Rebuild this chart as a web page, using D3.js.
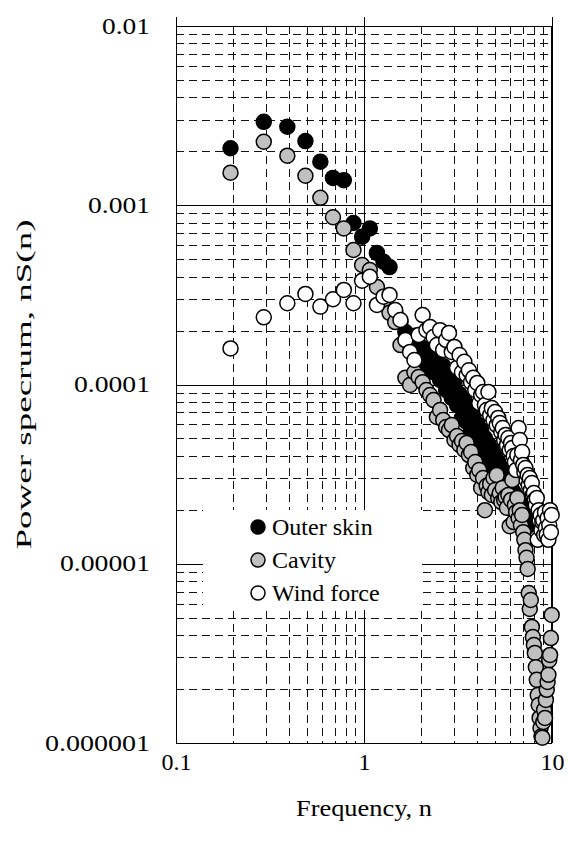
<!DOCTYPE html>
<html>
<head>
<meta charset="utf-8">
<script src="https://cdnjs.cloudflare.com/ajax/libs/d3/7.8.5/d3.min.js"></script>
<style>
  html, body { margin: 0; padding: 0; background: #fff; }
  svg { display: block; }
  text { font-family: "Liberation Serif", "Times New Roman", Times, serif; fill: #000; }
</style>
</head>
<body>
<svg id="chart"></svg>
<script>
// frequency bins (Hz)
const freq = [
  0.195, 0.293, 0.391, 0.488, 0.586, 0.684, 0.781, 0.879, 0.977, 1.074,
  1.172, 1.270, 1.367, 1.465, 1.563, 1.660, 1.758, 1.855, 1.953, 2.051,
  2.148, 2.246, 2.344, 2.441, 2.539, 2.637, 2.734, 2.832, 2.930, 3.027,
  3.125, 3.223, 3.320, 3.418, 3.516, 3.613, 3.711, 3.809, 3.906, 4.004,
  4.102, 4.199, 4.297, 4.395, 4.492, 4.590, 4.688, 4.785, 4.883, 4.980,
  5.078, 5.176, 5.273, 5.371, 5.469, 5.566, 5.664, 5.762, 5.859, 5.957,
  6.055, 6.152, 6.250, 6.348, 6.445, 6.543, 6.641, 6.738, 6.836, 6.934,
  7.031, 7.129, 7.227, 7.324, 7.422, 7.520, 7.617, 7.715, 7.813, 7.910,
  8.008, 8.105, 8.203, 8.301, 8.398, 8.496, 8.594, 8.691, 8.789, 8.887,
  8.984, 9.082, 9.180, 9.277, 9.375, 9.473, 9.570, 9.668, 9.766, 9.863,
  9.961
];

const outerSkin = [
  2.08e-3, 2.92e-3, 2.74e-3, 2.28e-3, 1.75e-3, 1.42e-3, 1.38e-3, 7.96e-4, 6.68e-4, 7.43e-4,
  5.42e-4, 4.84e-4, 4.52e-4, 2.54e-4, 2.23e-4, 1.96e-4, 1.68e-4, 1.87e-4, 1.46e-4, 1.60e-4,
  1.27e-4, 1.52e-4, 1.17e-4, 1.34e-4, 1.06e-4, 1.27e-4, 9.32e-5, 1.12e-4, 8.41e-5, 1.01e-4,
  7.68e-5, 8.85e-5, 6.51e-5, 8.19e-5, 6.18e-5, 7.39e-5, 5.57e-5, 6.67e-5, 5.03e-5, 6.02e-5,
  4.54e-5, 5.57e-5, 4.20e-5, 5.03e-5, 3.89e-5, 4.66e-5, 3.56e-5, 4.31e-5, 3.34e-5, 3.99e-5,
  3.09e-5, 3.70e-5, 2.86e-5, 3.42e-5, 2.65e-5, 3.17e-5, 2.45e-5, 2.93e-5, 2.33e-5, 2.72e-5,
  2.15e-5, 2.58e-5, 2.05e-5, 2.45e-5, 1.94e-5, 2.33e-5, 1.85e-5, 2.21e-5, 1.75e-5, 2.10e-5,
  1.67e-5, 1.94e-5, 1.58e-5, 1.85e-5, 1.62e-5
];

const cavity = [
  1.52e-3, 2.26e-3, 1.89e-3, 1.46e-3, 1.10e-3, 8.57e-4, 7.43e-4, 5.63e-4, 4.64e-4, 4.35e-4,
  3.50e-4, 2.96e-4, 2.51e-4, 2.23e-4, 1.66e-4, 1.09e-4, 9.94e-5, 1.17e-4, 1.10e-4, 1.03e-4,
  9.32e-5, 8.74e-5, 8.19e-5, 6.59e-5, 7.21e-5, 6.34e-5, 5.79e-5, 5.57e-5, 5.94e-5, 4.90e-5,
  5.16e-5, 4.60e-5, 4.84e-5, 4.31e-5, 4.72e-5, 4.04e-5, 4.20e-5, 3.42e-5, 3.69e-5, 3.13e-5,
  3.33e-5, 2.65e-5, 3.01e-5, 1.99e-5, 2.72e-5, 2.51e-5, 2.79e-5, 2.42e-5, 3.01e-5, 2.58e-5,
  3.13e-5, 2.33e-5, 2.48e-5, 2.21e-5, 2.65e-5, 2.27e-5, 2.36e-5, 2.05e-5, 2.42e-5, 1.62e-5,
  2.27e-5, 2.93e-5, 1.71e-5, 2.13e-5, 1.94e-5, 2.33e-5, 1.80e-5, 1.99e-5, 1.64e-5, 1.87e-5,
  1.50e-5, 1.36e-5, 1.19e-5, 1.08e-5, 9.35e-6, 6.87e-6, 5.59e-6, 6.28e-6, 4.44e-6, 3.90e-6,
  3.52e-6, 3.18e-6, 2.65e-6, 2.25e-6, 1.85e-6, 1.63e-6, 1.38e-6, 1.21e-6, 1.09e-6, 1.07e-6,
  1.31e-6, 1.53e-6, 1.38e-6, 1.74e-6, 1.98e-6, 2.19e-6, 2.40e-6, 2.90e-6, 3.10e-6, 3.85e-6,
  5.18e-6
];

const windForce = [
  1.59e-4, 2.37e-4, 2.84e-4, 3.20e-4, 2.72e-4, 2.99e-4, 3.37e-4, 2.84e-4, 3.79e-4, 3.99e-4,
  2.78e-4, 3.09e-4, 3.16e-4, 2.60e-4, 2.29e-4, 1.77e-4, 1.52e-4, 1.37e-4, 1.89e-4, 2.44e-4,
  2.01e-4, 2.09e-4, 1.84e-4, 1.66e-4, 2.01e-4, 1.56e-4, 1.77e-4, 1.94e-4, 1.52e-4, 1.62e-4,
  1.24e-4, 1.46e-4, 1.17e-4, 1.34e-4, 1.13e-4, 1.20e-4, 1.03e-4, 1.09e-4, 9.32e-5, 1.02e-4,
  7.88e-5, 8.74e-5, 9.08e-5, 7.68e-5, 7.21e-5, 9.08e-5, 6.76e-5, 7.39e-5, 6.34e-5, 7.02e-5,
  5.94e-5, 6.51e-5, 6.10e-5, 5.43e-5, 5.72e-5, 4.90e-5, 5.23e-5, 4.60e-5, 5.03e-5, 4.31e-5,
  4.72e-5, 4.42e-5, 3.99e-5, 3.69e-5, 3.33e-5, 4.04e-5, 5.72e-5, 4.90e-5, 3.79e-5, 4.20e-5,
  3.56e-5, 3.25e-5, 3.42e-5, 2.93e-5, 3.13e-5, 2.75e-5, 3.01e-5, 2.58e-5, 2.82e-5, 2.42e-5,
  2.48e-5, 2.27e-5, 2.13e-5, 2.33e-5, 1.36e-5, 1.99e-5, 1.75e-5, 1.87e-5, 1.54e-5, 1.71e-5,
  1.75e-5, 1.45e-5, 1.94e-5, 1.58e-5, 1.45e-5, 1.80e-5, 1.36e-5, 1.64e-5, 1.99e-5, 1.50e-5,
  1.87e-5
];

const seriesNames = ["Outer skin", "Cavity", "Wind force"];
const seriesFills = ["#000000", "#c0c0c0", "#ffffff"];
const xTickValues = [0.1, 1, 10];
const xTickLabels = ["0.1", "1", "10"];
const yTickValues = [0.000001, 0.00001, 0.0001, 0.001, 0.01];
const yTickLabels = ["0.000001", "0.00001", "0.0001", "0.001", "0.01"];
const yTickWidths = [105, 90, 76, 62, 48];

const width = 568;
const height = 848;
const margin = {top: 26, right: 16, bottom: 105, left: 176};

const svg = d3.select("#chart")
    .attr("width", width)
    .attr("height", height);

const x = d3.scaleLog()
    .domain([0.1, 10])
    .range([margin.left, width - margin.right]);

const y = d3.scaleLog()
    .domain([1e-6, 0.01])
    .range([height - margin.bottom, margin.top]);

const isDecade = d => Math.abs(Math.log10(d) - Math.round(Math.log10(d))) < 1e-9;
const crisp = v => Math.round(v) + 0.5;

// сетка
const grid = svg.append("g").attr("class", "grid");

grid.selectAll(".vminor")
    .data(x.ticks().filter(d => !isDecade(d)))
    .enter()
    .append("line")
    .attr("x1", d => crisp(x(d)))
    .attr("x2", d => crisp(x(d)))
    .attr("y1", margin.top)
    .attr("y2", height - margin.bottom)
    .attr("stroke", "#111")
    .attr("stroke-dasharray", "8,5");

grid.selectAll(".hminor")
    .data(y.ticks().filter(d => !isDecade(d)))
    .enter()
    .append("line")
    .attr("y1", d => crisp(y(d)))
    .attr("y2", d => crisp(y(d)))
    .attr("x1", margin.left)
    .attr("x2", width - margin.right)
    .attr("stroke", "#111")
    .attr("stroke-dasharray", "8,5");

grid.selectAll(".hmajor")
    .data(yTickValues)
    .enter()
    .append("line")
    .attr("y1", d => crisp(y(d)))
    .attr("y2", d => crisp(y(d)))
    .attr("x1", margin.left)
    .attr("x2", width - margin.right)
    .attr("stroke", "#000");

grid.selectAll(".vmajor")
    .data(xTickValues)
    .enter()
    .append("line")
    .attr("x1", d => crisp(x(d)))
    .attr("x2", d => crisp(x(d)))
    .attr("y1", margin.top - 9)
    .attr("y2", height - margin.bottom)
    .attr("stroke", "#000");

// белая подложка легенды закрывает сетку
svg.append("rect")
    .attr("x", 203)
    .attr("y", 510)
    .attr("width", 219)
    .attr("height", 100)
    .attr("fill", "#fff");

// рамка
svg.append("rect")
    .attr("x", margin.left + 0.5)
    .attr("y", margin.top + 0.5)
    .attr("width", width - margin.right - margin.left - 1)
    .attr("height", height - margin.bottom - margin.top)
    .attr("fill", "none")
    .attr("stroke", "#000");

// оси (только подписи)
const xAxis = svg.append("g")
    .attr("transform", `translate(0,${height - margin.bottom + 7})`)
    .call(d3.axisBottom(x).tickValues(xTickValues).tickSize(0)
        .tickFormat((d, i) => xTickLabels[i]));
xAxis.select(".domain").remove();
xAxis.selectAll("text")
    .attr("dy", "0.71em")
    .style("font-family", '"Liberation Serif", "Times New Roman", serif')
    .style("font-size", "24px");

const yAxis = svg.append("g")
    .attr("transform", `translate(${margin.left - 26},0)`)
    .call(d3.axisLeft(y).tickValues(yTickValues).tickSize(0)
        .tickFormat((d, i) => yTickLabels[i]));
yAxis.select(".domain").remove();
yAxis.selectAll("text")
    .attr("x", 0)
    .attr("dy", "0.3em")
    .attr("textLength", (d, i) => yTickWidths[i])
    .attr("lengthAdjust", "spacingAndGlyphs")
    .style("font-family", '"Liberation Serif", "Times New Roman", serif')
    .style("font-size", "24px");

// точки
const series = [outerSkin, cavity, windForce];
series.forEach((vals, s) => {
    svg.append("g")
        .selectAll("circle")
        .data(vals.map((v, i) => [freq[i], v]))
        .enter()
        .append("circle")
        .attr("cx", d => x(d[0]))
        .attr("cy", d => y(d[1]))
        .attr("r", 7.5)
        .attr("fill", seriesFills[s])
        .attr("stroke", "#000")
        .attr("stroke-width", 1.5);
});

// легенда
const legend = svg.append("g");
seriesNames.forEach((name, i) => {
    const ly = 527 + i * 33;
    legend.append("circle")
        .attr("cx", 258)
        .attr("cy", ly)
        .attr("r", 7)
        .attr("fill", seriesFills[i])
        .attr("stroke", "#000")
        .attr("stroke-width", 1.5);
    legend.append("text")
        .attr("x", 272)
        .attr("y", ly)
        .attr("dy", "0.34em")
        .style("font-size", "24px")
        .text(name);
});

// подписи осей
svg.append("text")
    .attr("x", (margin.left + width - margin.right) / 2)
    .attr("y", 816)
    .style("text-anchor", "middle")
    .style("font-size", "24px")
    .attr("textLength", 136)
    .attr("lengthAdjust", "spacingAndGlyphs")
    .text("Frequency, n");

svg.append("text")
    .attr("transform", `translate(31,${(margin.top + height - margin.bottom) / 2}) rotate(-90)`)
    .style("text-anchor", "middle")
    .style("font-size", "20px")
    .attr("textLength", 330)
    .attr("lengthAdjust", "spacingAndGlyphs")
    .text("Power specrum, nS(n)");
</script>
</body>
</html>
